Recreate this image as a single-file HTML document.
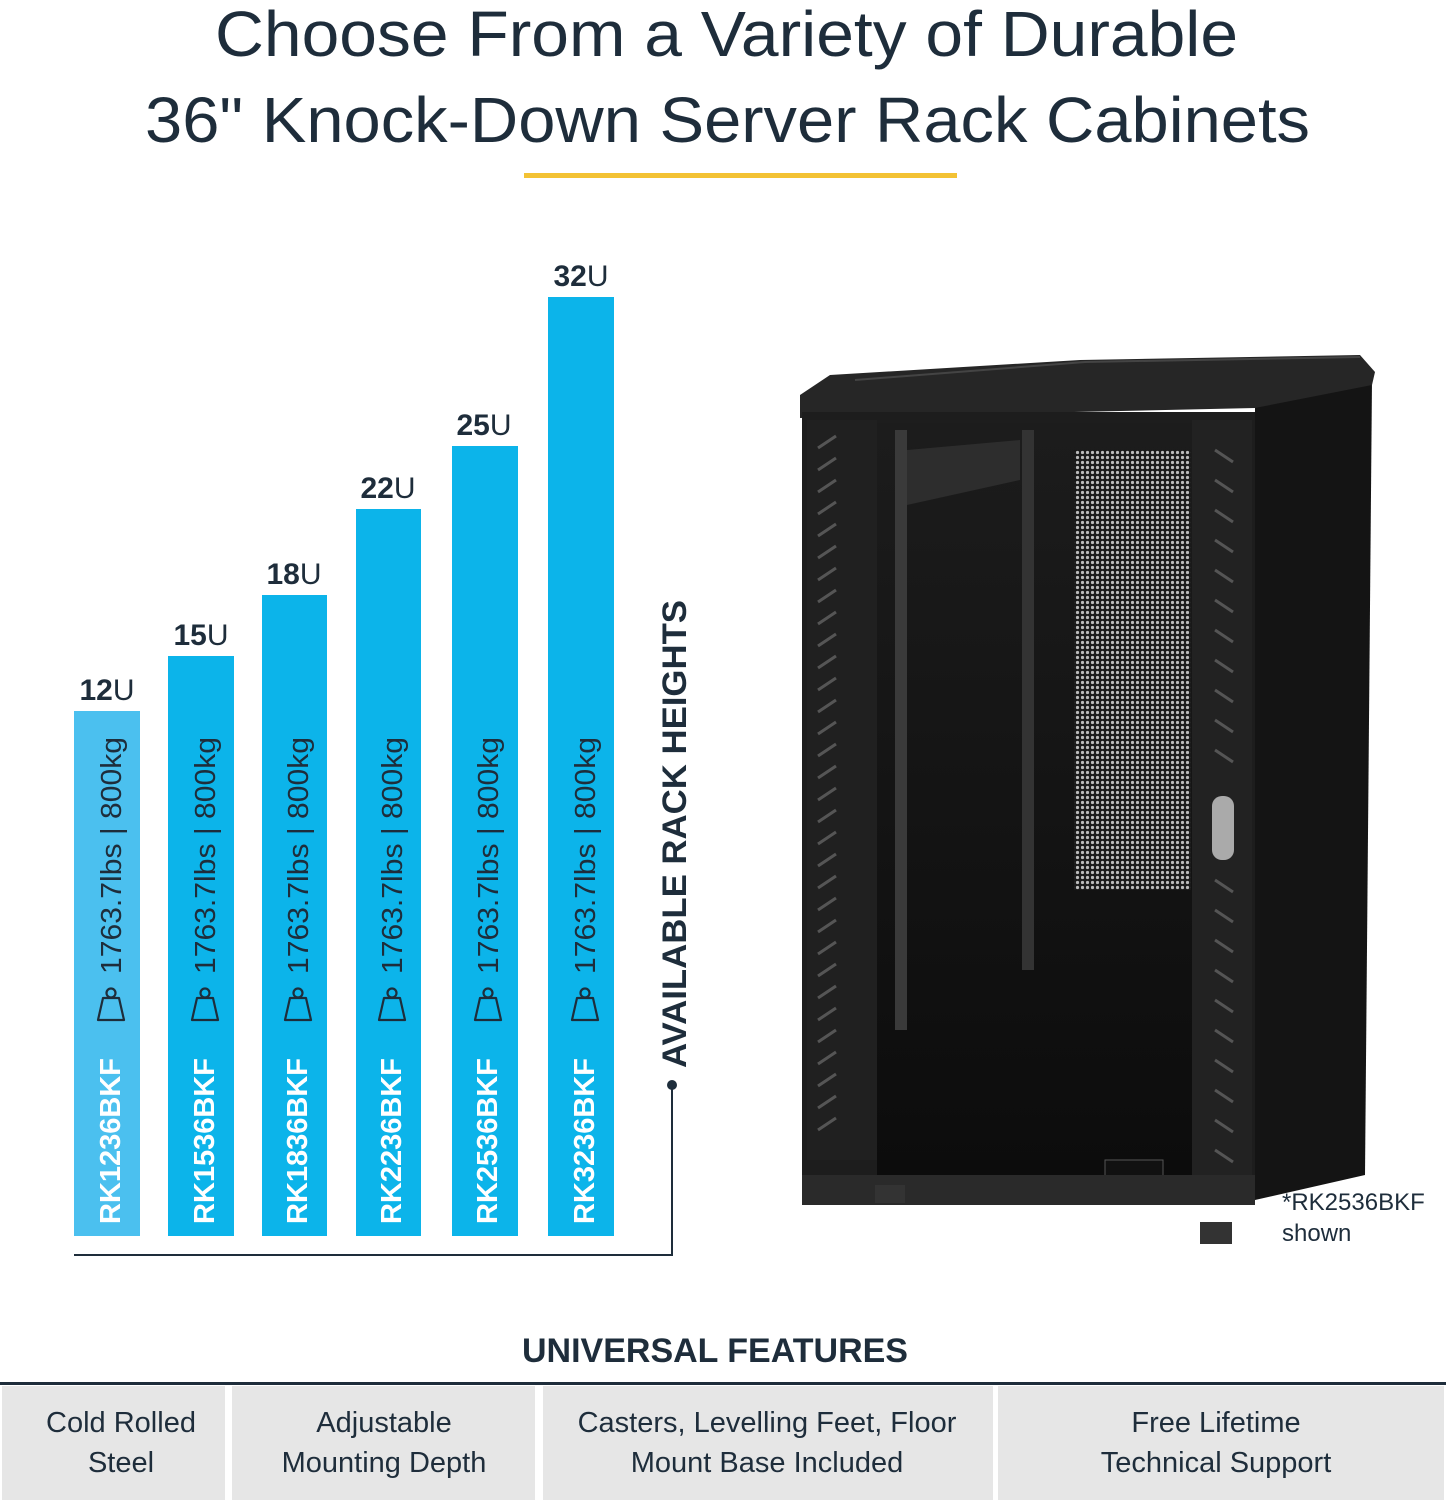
<!DOCTYPE html>
<html><head><meta charset="utf-8"><style>
html,body{margin:0;padding:0;background:#fff;}
body{width:1446px;height:1500px;position:relative;overflow:hidden;font-family:"Liberation Sans",sans-serif;}
</style></head><body>
<svg width="1446" height="1500" viewBox="0 0 1446 1500" xmlns="http://www.w3.org/2000/svg" style="position:absolute;left:0;top:0">
<defs>
<pattern id="mesh" width="5" height="5" patternUnits="userSpaceOnUse">
<rect width="5" height="5" fill="#1a1a1a"/><circle cx="2.5" cy="2.5" r="1.6" fill="#bbb"/>
</pattern>
<linearGradient id="glass" x1="0" y1="0" x2="0" y2="1"><stop offset="0" stop-color="#1c1c1c"/><stop offset="1" stop-color="#0c0c0c"/></linearGradient>
<g id="wt"><path d="M204 -22 L226 -17 L226 -1 L204 4 Z" fill="none" stroke="#1e2d3b" stroke-width="2.2" stroke-linejoin="round"/><circle cx="231" cy="-9" r="4.5" fill="none" stroke="#1e2d3b" stroke-width="2.2"/></g>
</defs>
<g font-family="Liberation Sans, sans-serif" fill="#1e2d3b">
<text x="215" y="56" font-size="64" textLength="1023" lengthAdjust="spacingAndGlyphs">Choose From a Variety of Durable</text>
<text x="145" y="142" font-size="64" textLength="1165" lengthAdjust="spacingAndGlyphs">36" Knock-Down Server Rack Cabinets</text>
</g>
<rect x="524" y="173" width="433" height="5" fill="#f3c234"/>

<g>
<rect x="74" y="711" width="66" height="525" fill="#4bc0ef"/>
<rect x="168" y="656" width="66" height="580" fill="#0cb4ea"/>
<rect x="262" y="595" width="65" height="641" fill="#0cb4ea"/>
<rect x="356" y="509" width="65" height="727" fill="#0cb4ea"/>
<rect x="452" y="446" width="66" height="790" fill="#0cb4ea"/>
<rect x="548" y="297" width="66" height="939" fill="#0cb4ea"/>
</g>
<g font-size="30" fill="#1e2d3b" text-anchor="middle">
<text x="107" y="700"><tspan font-weight="bold">12</tspan>U</text>
<text x="201" y="645"><tspan font-weight="bold">15</tspan>U</text>
<text x="294" y="584"><tspan font-weight="bold">18</tspan>U</text>
<text x="388" y="498"><tspan font-weight="bold">22</tspan>U</text>
<text x="484" y="435"><tspan font-weight="bold">25</tspan>U</text>
<text x="581" y="286"><tspan font-weight="bold">32</tspan>U</text>
</g>
<g font-size="29">
<g transform="translate(120,1224) rotate(-90)"><text fill="#fff" font-weight="bold">RK1236BKF</text><text x="250" y="1" fill="#1e2d3b" textLength="237" lengthAdjust="spacingAndGlyphs">1763.7lbs | 800kg</text><use href="#wt"/></g>
<g transform="translate(214,1224) rotate(-90)"><text fill="#fff" font-weight="bold">RK1536BKF</text><text x="250" y="1" fill="#1e2d3b" textLength="237" lengthAdjust="spacingAndGlyphs">1763.7lbs | 800kg</text><use href="#wt"/></g>
<g transform="translate(307,1224) rotate(-90)"><text fill="#fff" font-weight="bold">RK1836BKF</text><text x="250" y="1" fill="#1e2d3b" textLength="237" lengthAdjust="spacingAndGlyphs">1763.7lbs | 800kg</text><use href="#wt"/></g>
<g transform="translate(401,1224) rotate(-90)"><text fill="#fff" font-weight="bold">RK2236BKF</text><text x="250" y="1" fill="#1e2d3b" textLength="237" lengthAdjust="spacingAndGlyphs">1763.7lbs | 800kg</text><use href="#wt"/></g>
<g transform="translate(497,1224) rotate(-90)"><text fill="#fff" font-weight="bold">RK2536BKF</text><text x="250" y="1" fill="#1e2d3b" textLength="237" lengthAdjust="spacingAndGlyphs">1763.7lbs | 800kg</text><use href="#wt"/></g>
<g transform="translate(594,1224) rotate(-90)"><text fill="#fff" font-weight="bold">RK3236BKF</text><text x="250" y="1" fill="#1e2d3b" textLength="237" lengthAdjust="spacingAndGlyphs">1763.7lbs | 800kg</text><use href="#wt"/></g>
</g>
<path d="M74 1255 H672 V1085" fill="none" stroke="#1e2d3b" stroke-width="2"/>
<circle cx="672" cy="1085" r="5" fill="#1e2d3b"/>
<text transform="translate(686,1068) rotate(-90)" font-size="34" font-weight="bold" fill="#1e2d3b" textLength="468" lengthAdjust="spacingAndGlyphs">AVAILABLE RACK HEIGHTS</text>

<path d="M1255 400 L1372 380 L1365 1175 L1255 1200 Z" fill="#141414"/>
<path d="M800 395 L830 375 L1080 360 L1360 355 L1375 372 L1372 385 L1255 408 L800 418 Z" fill="#262626"/>
<path d="M855 380 L1085 362 L1360 357" stroke="#444" stroke-width="2" fill="none"/>
<rect x="802" y="412" width="453" height="792" fill="#1d1d1d"/>
<rect x="807" y="420" width="70" height="740" fill="#202020"/>
<rect x="877" y="423" width="315" height="755" fill="url(#glass)"/>
<rect x="895" y="430" width="12" height="600" fill="#3a3a3a"/>
<rect x="1022" y="430" width="12" height="540" fill="#333"/>
<path d="M907 450 L1020 440 L1020 480 L907 505 Z" fill="#2d2d2d"/>
<rect x="1074" y="450" width="117" height="440" fill="url(#mesh)"/>
<rect x="1192" y="420" width="60" height="760" fill="#222"/>
<rect x="1212" y="796" width="22" height="64" rx="10" fill="#aaa"/>
<rect x="1105" y="1160" width="58" height="20" fill="#111" stroke="#555"/>
<rect x="802" y="1175" width="453" height="30" fill="#2a2a2a"/>
<rect x="875" y="1185" width="30" height="18" fill="#333"/>
<rect x="1200" y="1222" width="32" height="22" fill="#333"/>
<g stroke="#555" stroke-width="3">
<path d="M818 448 l18 -12 M818 470 l18 -12 M818 492 l18 -12 M818 514 l18 -12 M818 536 l18 -12 M818 558 l18 -12 M818 580 l18 -12 M818 602 l18 -12 M818 624 l18 -12 M818 646 l18 -12 M818 668 l18 -12 M818 690 l18 -12 M818 712 l18 -12 M818 734 l18 -12 M818 756 l18 -12 M818 778 l18 -12 M818 800 l18 -12 M818 822 l18 -12 M818 844 l18 -12 M818 866 l18 -12 M818 888 l18 -12 M818 910 l18 -12 M818 932 l18 -12 M818 954 l18 -12 M818 976 l18 -12 M818 998 l18 -12 M818 1020 l18 -12 M818 1042 l18 -12 M818 1064 l18 -12 M818 1086 l18 -12 M818 1108 l18 -12 M818 1130 l18 -12"/>
<path d="M1215 450 l18 12 M1215 480 l18 12 M1215 510 l18 12 M1215 540 l18 12 M1215 570 l18 12 M1215 600 l18 12 M1215 630 l18 12 M1215 660 l18 12 M1215 690 l18 12 M1215 720 l18 12 M1215 750 l18 12 M1215 880 l18 12 M1215 910 l18 12 M1215 940 l18 12 M1215 970 l18 12 M1215 1000 l18 12 M1215 1030 l18 12 M1215 1060 l18 12 M1215 1090 l18 12 M1215 1120 l18 12 M1215 1150 l18 12"/>
</g>
<g font-size="24" fill="#1e2d3b"><text x="1282" y="1210">*RK2536BKF</text><text x="1282" y="1241">shown</text></g>

<text x="715" y="1362" text-anchor="middle" font-size="34" font-weight="bold" fill="#1e2d3b">UNIVERSAL FEATURES</text>
<rect x="0" y="1382" width="1446" height="3" fill="#1e2d3b"/>
<g fill="#e6e6e6">
<rect x="2" y="1386" width="223" height="114"/>
<rect x="232" y="1386" width="303" height="114"/>
<rect x="543" y="1386" width="450" height="114"/>
<rect x="998" y="1386" width="446" height="114"/>
</g>
<g font-size="29" fill="#1e2d3b" text-anchor="middle">
<text x="121" y="1432">Cold Rolled</text><text x="121" y="1472">Steel</text>
<text x="384" y="1432">Adjustable</text><text x="384" y="1472">Mounting Depth</text>
<text x="767" y="1432">Casters, Levelling Feet, Floor</text><text x="767" y="1472">Mount Base Included</text>
<text x="1216" y="1432">Free Lifetime</text><text x="1216" y="1472">Technical Support</text>
</g>
</svg>
</body></html>
